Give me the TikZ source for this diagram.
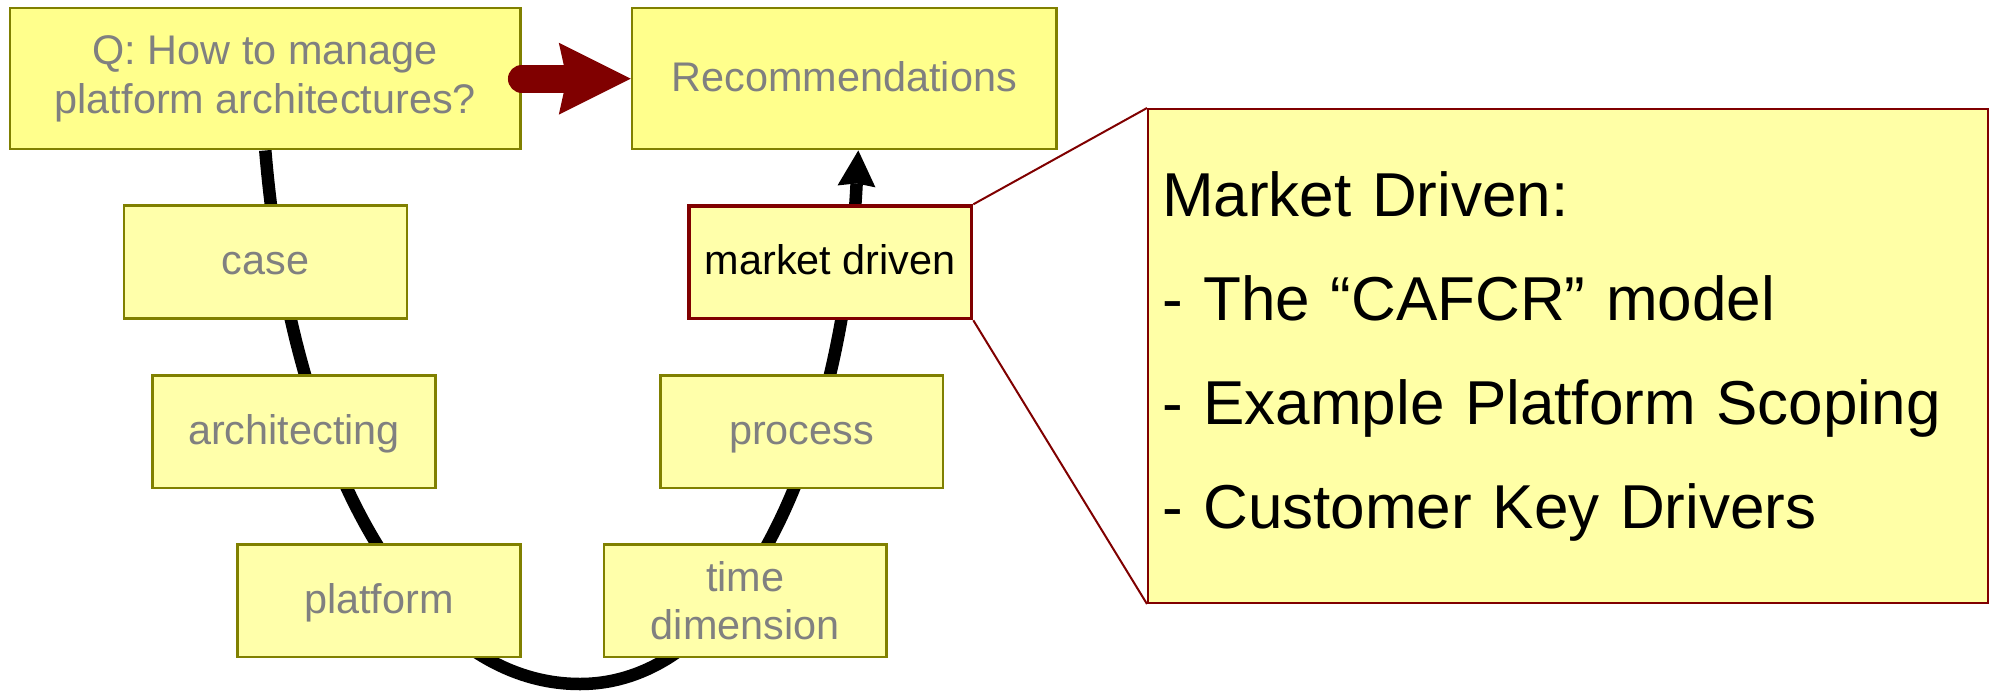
\documentclass[tikz,border=0pt]{standalone}
\usepackage{fontspec}
\setmainfont{Liberation Sans}
\usetikzlibrary{arrows.meta,backgrounds}
\definecolor{topfill}{HTML}{FFFF8C}
\definecolor{smallfill}{HTML}{FFFFAA}
\definecolor{bigfill}{HTML}{FFFFA6}
\definecolor{boxborder}{HTML}{808000}
\definecolor{txtgray}{HTML}{808080}
\definecolor{darkred}{HTML}{800000}
\begin{document}
\begin{tikzpicture}[x=0.5pt,y=-0.5pt,
  box/.style={draw=boxborder, line width=1.25pt, fill=smallfill, text=txtgray,
    inner sep=0pt, minimum width=141.3pt, minimum height=56.3pt,
    font=\fontsize{20.7pt}{24.15pt}\selectfont, align=center},
  oneline/.style={text height=17.6pt, text depth=5.2pt},
  topbox/.style={box, fill=topfill, minimum height=70.5pt},
  mdbox/.style={box, oneline, draw=darkred, line width=1.7pt, text=black},
  bigbox/.style={draw=darkred, line width=1pt, fill=bigfill, text=black,
    inner xsep=7pt, inner ysep=0pt, text width=406pt, minimum height=247pt,
    align=left, font=\fontsize{31pt}{52pt}\selectfont},
  curve/.style={line width=6.25pt, black, -{Stealth[length=18pt,width=19pt,inset=1.5pt,line width=0pt]}},
  redarrow/.style={line width=13.85pt, darkred, line cap=round, -{Stealth[length=36pt,width=36pt,inset=4pt,line width=0pt]}},
  callout/.style={draw=darkred, line width=1pt}
]
\useasboundingbox (0,0) rectangle (1992,691);

\node[topbox, minimum width=255.25pt] (q) at (265.3,78.7) {Q: How to manage\\platform architectures?};
\node[topbox, oneline, minimum width=212.25pt] (rec) at (844.3,78.7) {Recommendations};

\node[box, oneline] (case) at (265.5,262) {case};
\node[box, oneline] (arch) at (294,431.6) {architecting};
\node[box, oneline] (plat) at (379,600.8) {platform};
\node[box] (time) at (745.3,600.8) {time\\dimension};
\node[box, oneline] (proc) at (801.6,431.6) {process};
\node[mdbox] (md) at (830.3,262.3) {market driven};

\node[bigbox] (big) at (1568,356) {Market Driven:\\- The “CAFCR” model\\- Example Platform Scoping\\- Customer Key Drivers};

\draw[callout] (md.north east) -- (big.north west);
\draw[callout] (md.south east) -- (big.south west);

\draw[redarrow] (q.east) -- (rec.west);

\begin{scope}[on background layer]
  \fill[white] (0,0) rectangle (1992,691);
  \coordinate (bot) at (580,684);
  \draw[curve] (q.south) .. controls (290,450) and (410,684) .. (bot)
    .. controls (740,684) and (843,450) .. ([xshift=7pt]rec.south);
\end{scope}
\end{tikzpicture}
\end{document}
